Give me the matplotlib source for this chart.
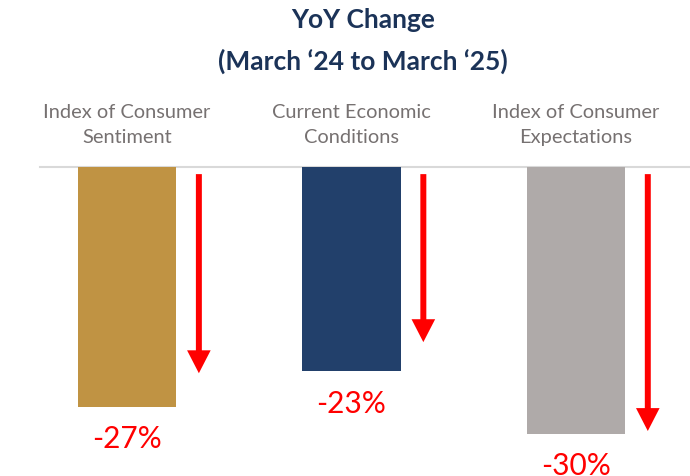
import matplotlib.pyplot as plt

plt.rcParams['font.family'] = ['Lato', 'DejaVu Sans']

categories = ['Index of Consumer\nSentiment', 'Current Economic\nConditions', 'Index of Consumer\nExpectations']
changes = [-27, -23, -30]
arrow_ends = [-23.2, -19.7, -29.7]
labels = ['-27%', '-23%', '-30%']
colors = ['#C09343', '#22406B', '#AFAAA9']

fig = plt.figure(figsize=(6.9, 4.77), dpi=100)
ax = fig.add_axes([0, 0, 1, 1])
ax.set_xlim(-0.566, 2.508)
ax.set_ylim(-34.76, 18.9)
ax.axis('off')

x = list(range(len(changes)))
ax.bar(x, changes, width=0.437, color=colors, zorder=2)
ax.plot([-0.388, 2.508], [0, 0], color='#D9D9D9', lw=1.5, zorder=1)

for i, v in enumerate(changes):
    ax.text(i, v - 3.5, labels[i], ha='center', va='center', color='#FF0000', fontsize=21.5)
    ax.text(i, 4.84, categories[i], ha='center', va='center', color='#767171',
            fontsize=14.4, linespacing=1.52)
    ax.annotate('', xy=(i + 0.32, arrow_ends[i]), xytext=(i + 0.32, -0.8),
                arrowprops=dict(arrowstyle='simple,head_width=1.7,head_length=1.65,tail_width=0.43',
                                mutation_scale=10, color='#FF0000', shrinkA=0, shrinkB=0, lw=0))

fig.text(0.526, 1 - 20 / 477, 'YoY Change', ha='center', va='center', fontsize=19,
         fontweight='bold', color='#1B3358')
fig.text(0.526, 1 - 61 / 477, '(March \u201824 to March \u201825)', ha='center', va='center',
         fontsize=19, fontweight='bold', color='#1B3358')

fig.savefig('out.png', dpi=100)
plt.close()
